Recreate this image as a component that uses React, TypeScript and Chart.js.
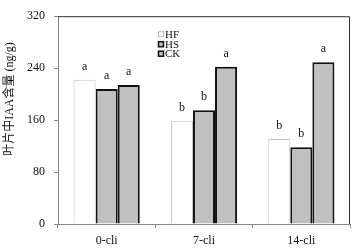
import React, { useEffect, useRef } from "react";
import { Chart, registerables } from "chart.js";

Chart.register(...registerables);

const categories = ["0-cli", "7-cli", "14-cli"];
const seriesNames = ["HF", "HS", "CK"];
const hfValues = [222, 159, 131];
const hsValues = [208, 175, 118];
const ckValues = [214, 242, 249];
const hfLetters = ["a", "b", "b"];
const hsLetters = ["a", "b", "b"];
const ckLetters = ["a", "a", "a"];
const yTicks = [0, 80, 160, 240, 320];
const yTitle = "叶片中IAA含量 (ng/g)";

const SERIF = "'Liberation Serif', 'Times New Roman', 'Noto Sans CJK SC', serif";
const GRAY_FILL = "#c0c0c0";

export default function App() {
  const ref = useRef<HTMLCanvasElement | null>(null);

  useEffect(() => {
    document.body.style.margin = "0";
    const canvas = ref.current;
    if (!canvas) return;
    const letters = [hfLetters, hsLetters, ckLetters];

    const overlay = {
      id: "overlay",
      afterDatasetsDraw(chart: any) {
        const ctx = chart.ctx;
        const area = chart.chartArea;
        ctx.save();
        // frame top & right
        ctx.strokeStyle = "#333";
        ctx.lineWidth = 1;
        ctx.beginPath();
        ctx.moveTo(area.left, area.top + 0.5);
        ctx.lineTo(area.right - 0.5, area.top + 0.5);
        ctx.lineTo(area.right - 0.5, area.bottom);
        ctx.stroke();
        // letters above bars
        ctx.fillStyle = "#111";
        ctx.font = `12px ${SERIF}`;
        ctx.textAlign = "center";
        ctx.textBaseline = "alphabetic";
        chart.data.datasets.forEach((ds: any, di: number) => {
          const meta = chart.getDatasetMeta(di);
          meta.data.forEach((bar: any, i: number) => {
            ctx.fillText(letters[di][i], bar.x, bar.y - 10);
          });
        });
        // legend
        const lx = area.left + 100;
        const rows = [area.top + 18, area.top + 28, area.top + 37.5];
        ctx.textAlign = "left";
        ctx.textBaseline = "middle";
        ctx.font = `11px ${SERIF}`;
        chart.data.datasets.forEach((ds: any, di: number) => {
          const y = rows[di];
          ctx.fillStyle = ds.backgroundColor;
          ctx.fillRect(lx, y - 3, 6, 6);
          ctx.strokeStyle = di === 0 ? "#bbb" : "#111";
          ctx.lineWidth = di === 0 ? 1 : 1.5;
          ctx.strokeRect(lx + 0.5, y - 2.5, 5, 5);
          ctx.fillStyle = "#111";
          ctx.fillText(ds.label, lx + 7, y + 0.5);
        });
        // y title
        ctx.save();
        ctx.translate(10, 99);
        ctx.rotate(-Math.PI / 2);
        ctx.textAlign = "center";
        ctx.textBaseline = "middle";
        ctx.font = `12px ${SERIF}`;
        ctx.fillStyle = "#111";
        ctx.fillText(yTitle, 0, 0);
        ctx.restore();
        ctx.restore();
      },
    };

    const chart = new Chart(canvas, {
      type: "bar",
      data: {
        labels: categories,
        datasets: [
          {
            label: seriesNames[0],
            data: hfValues,
            backgroundColor: "#ffffff",
            borderColor: "#c4c4c4",
            borderWidth: 1,
            borderSkipped: "start",
          },
          {
            label: seriesNames[1],
            data: hsValues,
            backgroundColor: GRAY_FILL,
            borderColor: "#111",
            borderWidth: 2,
            borderSkipped: "start",
          },
          {
            label: seriesNames[2],
            data: ckValues,
            backgroundColor: GRAY_FILL,
            borderColor: "#111",
            borderWidth: 2,
            borderSkipped: "start",
          },
        ],
      },
      options: {
        responsive: false,
        animation: false,
        devicePixelRatio: 1,
        layout: { padding: { left: 0, top: 7, right: 3, bottom: 0 } },
        plugins: {
          legend: { display: false },
          tooltip: { enabled: false },
        },
        datasets: {
          bar: { categoryPercentage: 0.68, barPercentage: 1 },
        },
        scales: {
          x: {
            grid: {
              offset: true,
              drawOnChartArea: false,
              drawTicks: true,
              tickLength: 4,
              color: "#888",
            },
            border: { color: "#888", width: 1 },
            ticks: {
              color: "#111",
              padding: 6,
              font: { family: SERIF, size: 12 },
            },
            afterFit(scale: any) {
              scale.height = 26;
            },
          },
          y: {
            min: 0,
            max: 320,
            afterBuildTicks(scale: any) {
              scale.ticks = yTicks.map((v) => ({ value: v }));
            },
            grid: {
              drawOnChartArea: false,
              drawTicks: true,
              tickLength: 4,
              color: "#888",
            },
            border: { color: "#888", width: 1 },
            ticks: {
              color: "#111",
              padding: 9,
              font: { family: SERIF, size: 12 },
            },
            afterFit(scale: any) {
              scale.width = 58;
            },
          },
        },
      },
      plugins: [overlay],
    });

    return () => chart.destroy();
  }, []);

  return (
    <div style={{ width: 353, height: 250 }}>
      <canvas ref={ref} width={353} height={250} />
    </div>
  );
}
